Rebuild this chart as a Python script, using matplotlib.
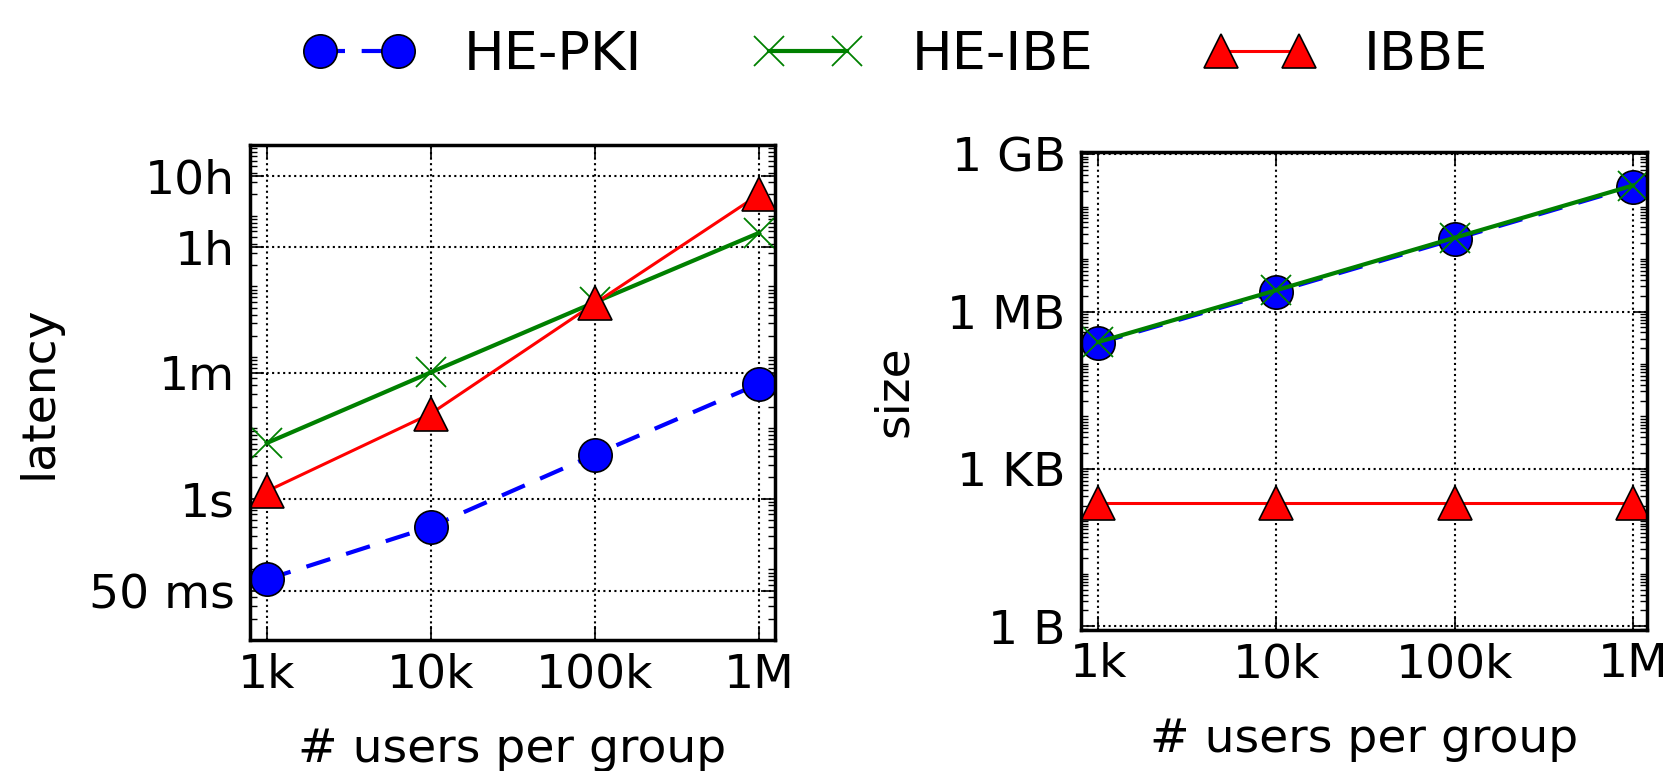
import matplotlib
matplotlib.use('Agg')
import matplotlib.pyplot as plt
import matplotlib.ticker as mticker
import numpy as np

# Dados
users = [1e3, 1e4, 1e5, 1e6]
user_labels = ['1k', '10k', '100k', '1M']

# latência (segundos)
lat_he_pki = [0.072, 0.40, 4.2, 42]
lat_he_ibe = [6.1, 61, 598, 5730]
lat_ibbe = [1.27, 15.9, 578, 20000]

# tamanho (bytes)
size_he_pki = [250e3, 2.4e6, 24e6, 240e6]
size_he_ibe = [262e3, 2.55e6, 25.5e6, 252e6]
size_ibbe = [226, 226, 226, 226]

lat_ticks = [0.05, 1, 60, 3600, 36000]
lat_tick_labels = ['50 ms', '1s', '1m', '1h', '10h']
size_ticks = [1, 1e3, 1e6, 1e9]
size_tick_labels = ['1 B', '1 KB', '1 MB', '1 GB']

plt.rcParams['font.family'] = 'DejaVu Sans'
FS = 34

fig = plt.figure(figsize=(16.63, 7.71), dpi=100)
ax1 = fig.add_axes([0.1503, 0.1699, 0.3157, 0.642])
ax2 = fig.add_axes([0.650, 0.1829, 0.3403, 0.620])

estilos = dict(
    pki=dict(color='b', linestyle='--', linewidth=3, marker='o', markersize=24,
             markerfacecolor='b', markeredgecolor='k', markeredgewidth=1.2,
             dashes=(6, 4), label='HE-PKI'),
    ibe=dict(color='g', linestyle='-', linewidth=3, marker='x', markersize=22,
             markeredgecolor='g', markeredgewidth=1.3, label='HE-IBE'),
    ibbe=dict(color='r', linestyle='-', linewidth=2.2, marker='^', markersize=24,
              markerfacecolor='r', markeredgecolor='k', markeredgewidth=1.2,
              label='IBBE'),
)

ax1.plot(users, lat_he_pki, **estilos['pki'])
ax1.plot(users, lat_he_ibe, **estilos['ibe'])
ax1.plot(users, lat_ibbe, **estilos['ibbe'])

ax2.plot(users, size_he_pki, **estilos['pki'])
ax2.plot(users, size_he_ibe, **estilos['ibe'])
ax2.plot(users, size_ibbe, **estilos['ibbe'])

for ax in (ax1, ax2):
    ax.set_xscale('log')
    ax.set_yscale('log')
    ax.set_xlim(790, 1.25e6)
    ax.set_xticks(users)
    ax.set_xticklabels(user_labels)
    ax.xaxis.set_minor_locator(mticker.NullLocator())
    ax.yaxis.set_minor_locator(mticker.LogLocator(base=10, subs=np.arange(1, 10), numticks=100))
    ax.yaxis.set_minor_formatter(mticker.NullFormatter())
    ax.tick_params(which='both', direction='in', top=True, right=True)
    ax.tick_params(which='major', length=10, width=1.2, labelsize=FS)
    ax.tick_params(axis='x', which='major', pad=9)
    ax.tick_params(axis='y', which='major', pad=11)
    ax.tick_params(which='minor', length=5, width=1)
    ax.grid(True, which='major', color='k', linestyle=':', linewidth=1.5)
    for s in ax.spines.values():
        s.set_linewidth(2.5)
    ax.set_xlabel('# users per group', fontsize=FS, labelpad=21)

ax1.set_ylim(0.01, 1e5)
ax1.set_yticks(lat_ticks)
ax1.set_yticklabels(lat_tick_labels)
ax1.set_ylabel('latency', fontsize=FS, labelpad=20)

ax2.set_xlim(800, 1.2e6)
ax2.set_ylim(0.85, 1.1e9)
ax2.set_yticks(size_ticks)
ax2.set_yticklabels(size_tick_labels)
ax2.set_ylabel('size', fontsize=FS, labelpad=22)

handles, labels = ax1.get_legend_handles_labels()
fig.legend(handles, labels, loc='center', bbox_to_anchor=(0.539, 0.929), ncol=3,
           frameon=False, fontsize=39, numpoints=2, handlelength=2.04,
           columnspacing=2.05, handletextpad=0.9, borderpad=0)

plt.savefig('out.png', dpi=100)
